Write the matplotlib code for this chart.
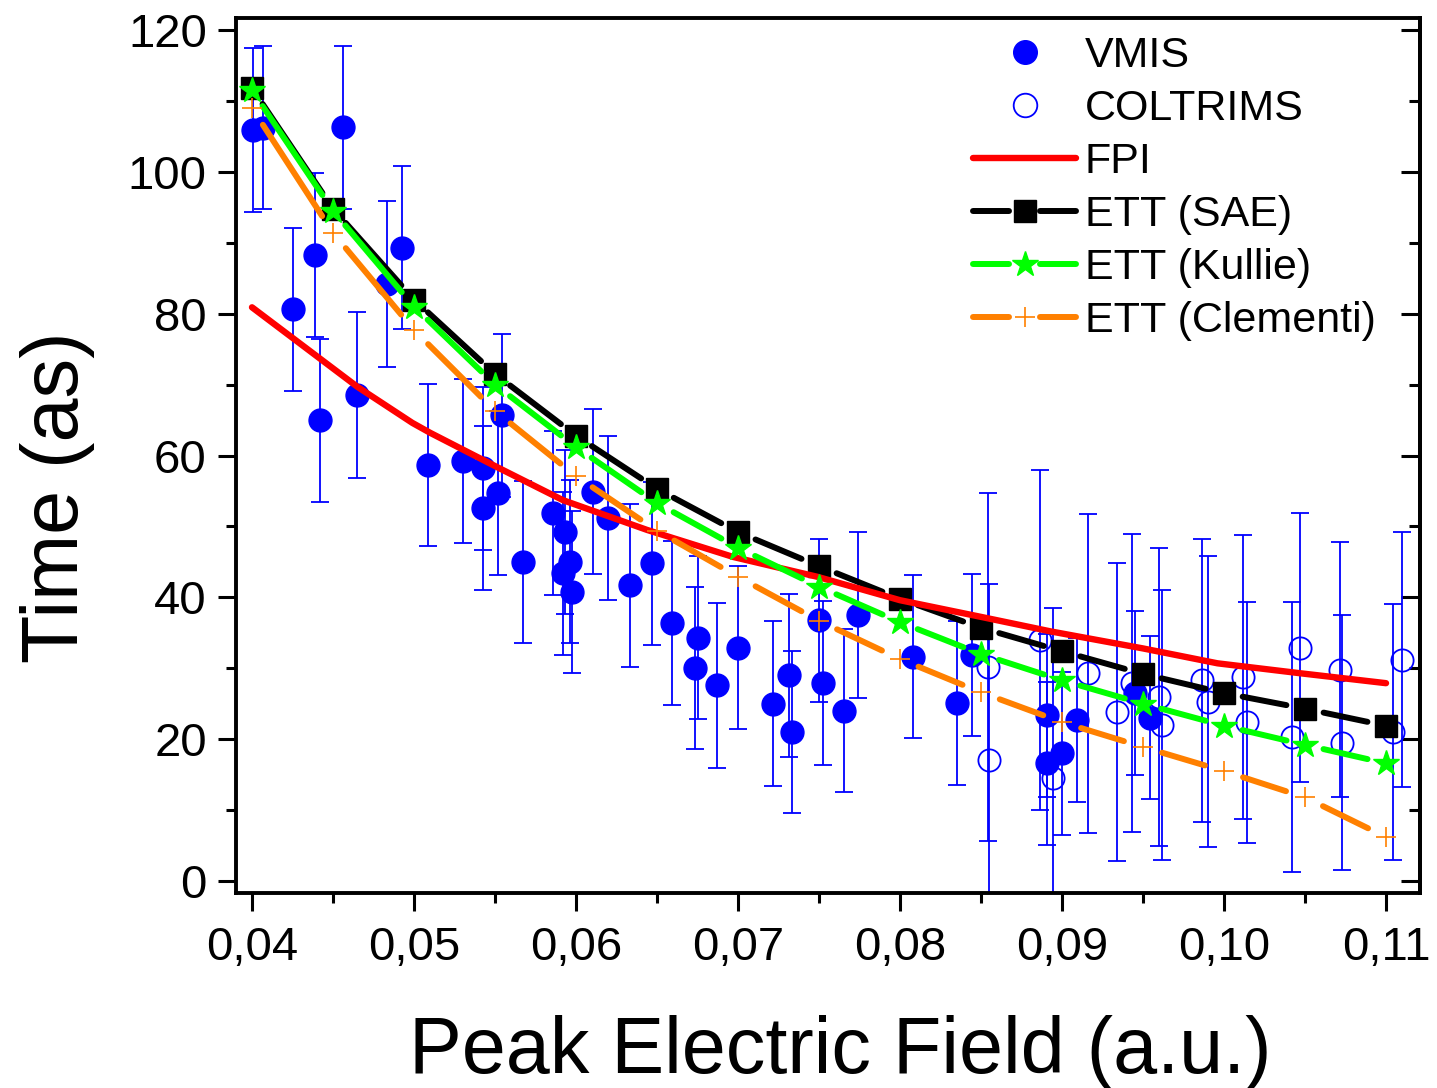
import numpy as np
import matplotlib.pyplot as plt
from matplotlib.lines import Line2D
from matplotlib.legend_handler import HandlerBase
from matplotlib.ticker import MultipleLocator, FuncFormatter

plt.rcParams['font.family'] = ['Liberation Sans', 'DejaVu Sans']

# theory curves, field in a.u., time in as
field = [0.040, 0.045, 0.050, 0.055, 0.060, 0.065, 0.070, 0.075,
         0.080, 0.085, 0.090, 0.095, 0.100, 0.105, 0.110]
ett_sae = [111.8, 94.8, 82.0, 71.5, 62.8, 55.3, 49.2, 44.4,
           39.8, 35.7, 32.4, 29.2, 26.5, 24.3, 21.9]
ett_kullie = [111.5, 94.5, 81.0, 70.0, 61.2, 53.3, 47.0, 41.5,
              36.5, 32.0, 28.3, 25.0, 21.9, 19.2, 16.6]
ett_clementi = [109.0, 91.4, 77.7, 66.3, 57.1, 49.4, 42.9, 36.7,
                31.3, 26.6, 22.4, 18.9, 15.5, 11.8, 6.2]

fpi_field = [0.040, 0.0465, 0.0499, 0.051, 0.0551, 0.0592, 0.0644, 0.0697,
             0.0749, 0.080, 0.0851, 0.0893, 0.095, 0.0996, 0.1047, 0.110]
fpi = [80.9, 69.7, 64.6, 63.2, 58.4, 53.7, 49.5, 45.7,
       42.9, 39.6, 37.2, 35.2, 32.8, 30.7, 29.3, 27.9]

# experiment
vmis_x = [0.04006, 0.04068, 0.04253, 0.04389, 0.0442, 0.04562, 0.04648, 0.04833,
          0.04926, 0.05086, 0.05302, 0.05426, 0.05426, 0.05519, 0.05543, 0.05673,
          0.05858, 0.05932, 0.05963, 0.0592, 0.05975, 0.06105, 0.06198, 0.06333,
          0.06469, 0.06593, 0.06753, 0.06735, 0.0687, 0.0700, 0.07216, 0.07315,
          0.07333, 0.0750, 0.07525, 0.07654, 0.07741, 0.0808, 0.08352, 0.08444,
          0.08907, 0.09093, 0.08907, 0.0900, 0.09451, 0.09543]
vmis_y = [105.9, 106.2, 80.6, 88.3, 65.0, 106.3, 68.5, 84.2,
          89.3, 58.7, 59.2, 58.2, 52.6, 54.7, 65.7, 45.0,
          51.9, 49.2, 45.0, 43.4, 40.8, 54.9, 51.2, 41.7,
          44.8, 36.4, 34.3, 30.0, 27.6, 32.9, 25.0, 29.0,
          21.0, 36.8, 27.9, 24.0, 37.5, 31.6, 25.1, 31.9,
          23.4, 22.7, 16.6, 18.0, 26.5, 23.0]
vmis_err = [11.5, 11.5, 11.5, 11.6, 11.5, 11.5, 11.7, 11.7,
            11.5, 11.4, 11.6, 11.5, 11.5, 11.6, 11.5, 11.4,
            11.5, 11.6, 11.5, 11.5, 11.4, 11.6, 11.6, 11.5,
            11.5, 11.6, 11.5, 11.4, 11.6, 11.5, 11.6, 11.5,
            11.4, 11.5, 11.6, 11.5, 11.7, 11.5, 11.6, 11.4,
            11.5, 11.6, 11.5, 11.5, 11.6, 11.5]

colt_x = [0.08543, 0.0855, 0.08864, 0.08944, 0.0916, 0.0934, 0.0943, 0.0960,
          0.0962, 0.09864, 0.0990, 0.1012, 0.1014, 0.1047, 0.1042, 0.10716,
          0.1073, 0.1104, 0.1110]
colt_y = [30.2, 17.1, 34.0, 14.5, 29.3, 23.8, 27.9, 26.0,
          22.0, 28.3, 25.3, 28.8, 22.4, 32.9, 20.3, 29.8,
          19.5, 21.0, 31.2]
colt_err = [24.5, 24.8, 24.0, 24.0, 22.5, 21.0, 21.0, 21.0,
            19.0, 20.0, 20.5, 20.0, 17.0, 19.0, 19.0, 18.0,
            18.0, 18.0, 18.0]

blue = '#0000ff'
red = '#ff0000'
green = '#00ff00'
orange = '#ff8000'

fig = plt.figure(figsize=(14.37, 10.88), dpi=100)
ax = fig.add_axes([0.1642, 0.1792, 0.824, 0.8043])
ax.set_xlim(0.03901, 0.1121)
ax.set_ylim(-1.69, 121.7)


def gapped(x, y, gap, **kw):
    # Origin style: line broken around each symbol
    pts = ax.transData.transform(np.column_stack([x, y]))
    inv = ax.transData.inverted()
    for p, q in zip(pts[:-1], pts[1:]):
        d = q - p
        u = d / np.hypot(*d)
        a = inv.transform(p + u * gap)
        b = inv.transform(q - u * gap)
        ax.plot([a[0], b[0]], [a[1], b[1]], solid_capstyle='round', **kw)


class BrokenLine(HandlerBase):
    # legend entry: line - symbol - line, with gaps around the symbol
    def create_artists(self, legend, orig, xdescent, ydescent, width, height,
                       fontsize, trans):
        y = height / 2 - ydescent
        x0 = -xdescent
        x1 = x0 + width
        xm = (x0 + x1) / 2
        g = 0.15 * width
        kw = dict(color=orig.get_color(), lw=orig.get_linewidth(),
                  solid_capstyle='round')
        l1 = Line2D([x0, xm - g], [y, y], **kw)
        l2 = Line2D([xm + g, x1], [y, y], **kw)
        m = Line2D([xm], [y], ls='none', marker=orig.get_marker(),
                   ms=orig.get_markersize(), mew=orig.get_markeredgewidth(),
                   color=orig.get_color())
        for a in (l1, l2, m):
            a.set_transform(trans)
        return [l1, l2, m]


ax.errorbar(vmis_x, vmis_y, yerr=vmis_err, fmt='o', color=blue, ms=16.5,
            elinewidth=1.3, capsize=6.5, capthick=1.3, zorder=2)
ax.errorbar(colt_x, colt_y, yerr=colt_err, fmt='o', color=blue, mfc='none',
            mec=blue, mew=1.3, ms=16, elinewidth=1.3, capsize=6.5,
            capthick=1.3, zorder=2)

gapped(field, ett_sae, 19, color='black', lw=4.3, zorder=3)
ax.plot(field, ett_sae, ls='none', marker='s', ms=16, color='black', zorder=3)

ax.plot(fpi_field, fpi, color=red, lw=4.6, solid_capstyle='round', zorder=4)

gapped(field, ett_kullie, 19, color=green, lw=4.3, zorder=5)
ax.plot(field, ett_kullie, ls='none', marker='*', ms=19, color=green, zorder=5)

gapped(field, ett_clementi, 20, color=orange, lw=4.3, zorder=6)
ax.plot(field, ett_clementi, ls='none', marker='+', ms=15, mew=1.2,
        color=orange, zorder=6)

# axes styling
for s in ax.spines.values():
    s.set_linewidth(2.8)

ax.xaxis.set_major_locator(MultipleLocator(0.01))
ax.xaxis.set_minor_locator(MultipleLocator(0.005))
ax.yaxis.set_major_locator(MultipleLocator(20))
ax.yaxis.set_minor_locator(MultipleLocator(10))
ax.xaxis.set_major_formatter(FuncFormatter(lambda v, p: f'{v:.2f}'.replace('.', ',')))
ax.yaxis.set_major_formatter(FuncFormatter(lambda v, p: f'{v:.0f}'))

ax.tick_params(which='major', direction='out', length=13, width=2.2,
               labelsize=34, top=False, right=False)
ax.tick_params(which='minor', direction='out', length=7.5, width=2.2,
               top=False, right=False)
ax.tick_params(axis='x', which='major', pad=10.5)
ax.tick_params(axis='y', which='major', pad=8)

ax2 = ax.secondary_yaxis('right')
ax2.yaxis.set_major_locator(MultipleLocator(20))
ax2.yaxis.set_minor_locator(MultipleLocator(10))
ax2.tick_params(which='major', direction='in', length=14, width=2.2, labelright=False)
ax2.tick_params(which='minor', direction='in', length=8, width=2.2)
ax2.spines['right'].set_linewidth(2.8)

fig.text(0.5846, 0.0138, 'Peak Electric Field (a.u.)', fontsize=57,
         ha='center', va='baseline')
fig.text(0.040, 0.5432, 'Time (as)', fontsize=57, rotation=90,
         ha='center', va='center')

h_sae = Line2D([], [], color='black', lw=4.3, marker='s', ms=16)
h_kul = Line2D([], [], color=green, lw=4.3, marker='*', ms=19)
h_cle = Line2D([], [], color=orange, lw=4.3, marker='+', ms=15, mew=1.2)
handles = [
    Line2D([], [], ls='none', marker='o', ms=17, color=blue),
    Line2D([], [], ls='none', marker='o', ms=17, mfc='none', mec=blue, mew=1.3),
    Line2D([], [], color=red, lw=4.6, solid_capstyle='round'),
    h_sae, h_kul, h_cle,
]
labels = ['VMIS', 'COLTRIMS', 'FPI', 'ETT (SAE)', 'ETT (Kullie)', 'ETT (Clementi)']
ax.legend(handles, labels, loc='upper left', bbox_to_anchor=(0.6225, 0.979),
          frameon=False, fontsize=31, handlelength=2.4, handletextpad=0.2,
          labelspacing=0.3, borderpad=0, borderaxespad=0,
          handler_map={h_sae: BrokenLine(), h_kul: BrokenLine(), h_cle: BrokenLine()})

fig.savefig('out.png', dpi=100)
